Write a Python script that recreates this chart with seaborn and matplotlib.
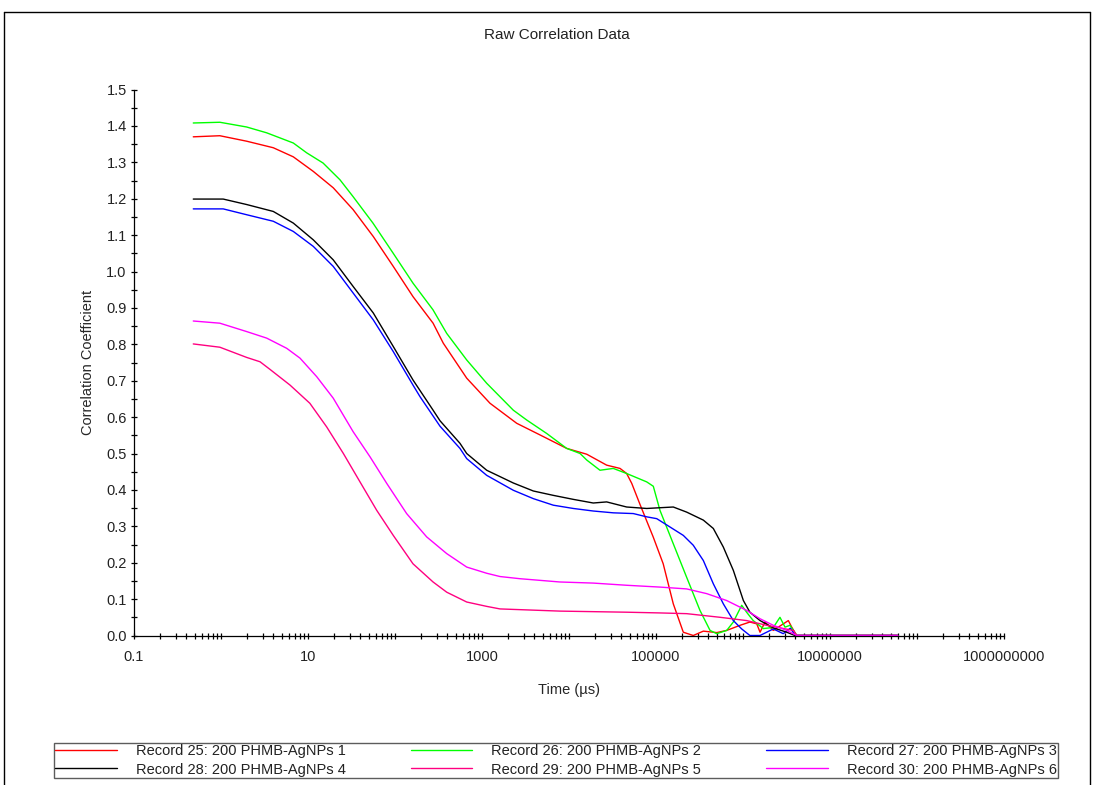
import numpy as np
import pandas as pd
import matplotlib
matplotlib.use("Agg")
import matplotlib.pyplot as plt
import seaborn as sns
from matplotlib.ticker import FixedLocator, FixedFormatter, LogLocator, MultipleLocator, FormatStrFormatter, NullFormatter
from matplotlib.lines import Line2D

# ---------------- data (time in µs, correlation coefficient) ----------------
labels = [
    "Record 25: 200 PHMB-AgNPs 1",
    "Record 26: 200 PHMB-AgNPs 2",
    "Record 27: 200 PHMB-AgNPs 3",
    "Record 28: 200 PHMB-AgNPs 4",
    "Record 29: 200 PHMB-AgNPs 5",
    "Record 30: 200 PHMB-AgNPs 6",
]
colors = ["#ff0000", "#00ff00", "#0000ff", "#000000", "#ff0080", "#ff00ff"]

t25 = [0.48, 0.97, 1.97, 3.99, 6.78, 11.5, 19.5, 33, 56.3, 95.5, 161, 274, 359, 667, 1236, 2506,
       4645, 9410, 16000, 27100, 38600, 46000, 52600, 65500, 93100, 121000, 158000, 206000,
       268000, 350000, 499000, 650000, 925000, 1.20e6, 1.44e6, 1.57e6, 1.79e6, 2.23e6, 3.32e6,
       3.63e6, 4.14e6, 6e7]
g25 = [1.370, 1.373, 1.358, 1.340, 1.315, 1.275, 1.230, 1.170, 1.096, 1.014, 0.931, 0.858, 0.803,
       0.707, 0.638, 0.583, 0.551, 0.514, 0.498, 0.468, 0.459, 0.445, 0.418, 0.360, 0.270, 0.197,
       0.087, 0.009, 0.0, 0.012, 0.008, 0.014, 0.028, 0.037, 0.032, 0.009, 0.037, 0.014, 0.041,
       0.023, 0.0, 0.0]

t26 = [0.48, 0.97, 1.97, 3.35, 6.78, 9.66, 14.9, 23.3, 32.9, 55.8, 94.8, 161, 273, 393, 667, 1132,
       2290, 3265, 5545, 9410, 13400, 16000, 22700, 32300, 46000, 78200, 93100, 111000, 158000,
       225000, 320000, 418000, 499000, 650000, 774000, 966000, 1.10e6, 1.31e6, 1.71e6, 2.23e6,
       2.66e6, 3.04e6, 3.47e6, 4.14e6, 6e7]
g26 = [1.408, 1.410, 1.397, 1.381, 1.353, 1.326, 1.298, 1.252, 1.206, 1.133, 1.051, 0.968, 0.895,
       0.830, 0.757, 0.693, 0.619, 0.592, 0.555, 0.514, 0.500, 0.482, 0.454, 0.459, 0.445, 0.422,
       0.410, 0.344, 0.252, 0.160, 0.069, 0.014, 0.005, 0.014, 0.037, 0.083, 0.064, 0.041, 0.019,
       0.022, 0.050, 0.023, 0.028, 0.0, 0.0]

t27 = [0.48, 1.06, 1.97, 3.99, 6.78, 11.5, 19.5, 33, 56.3, 95.5, 161, 194, 329, 558, 667, 1132,
       2290, 3890, 6600, 11200, 19000, 32300, 54800, 78200, 102000, 145000, 206000, 268000,
       350000, 456000, 594000, 774000, 966000, 1.20e6, 1.57e6, 2.23e6, 2.9e6, 3.5e6, 4.0e6, 6e7]
g27 = [1.172, 1.172, 1.156, 1.138, 1.110, 1.069, 1.014, 0.941, 0.867, 0.780, 0.688, 0.656, 0.575,
       0.514, 0.486, 0.440, 0.399, 0.376, 0.358, 0.349, 0.342, 0.337, 0.335, 0.326, 0.321, 0.298,
       0.275, 0.248, 0.206, 0.142, 0.087, 0.041, 0.018, 0.0, 0.0, 0.018, 0.005, 0.020, 0.0, 0.0]

t28 = [0.48, 1.06, 1.97, 3.99, 6.78, 11.5, 19.5, 33, 56.3, 95.5, 161, 274, 329, 558, 667, 1132,
       2290, 3890, 6600, 11200, 19000, 27100, 46000, 78200, 111000, 158000, 225000, 350000,
       456000, 594000, 774000, 1.01e6, 1.20e6, 1.57e6, 2.23e6, 3.18e6, 3.96e6, 6e7]
g28 = [1.199, 1.199, 1.184, 1.165, 1.133, 1.087, 1.032, 0.959, 0.886, 0.794, 0.702, 0.619, 0.590,
       0.528, 0.500, 0.454, 0.419, 0.397, 0.385, 0.374, 0.364, 0.367, 0.353, 0.349, 0.351, 0.353,
       0.339, 0.317, 0.294, 0.243, 0.179, 0.096, 0.064, 0.041, 0.021, 0.009, 0.0, 0.0]

t29 = [0.48, 0.97, 1.97, 2.81, 3.66, 6.21, 10.5, 16.4, 25.5, 39.6, 61.6, 95.5, 161, 274, 393, 667,
       1132, 1610, 7880, 46000, 111000, 225000, 545000, 1.10e6, 1.87e6, 2.66e6, 3.78e6, 4.14e6, 6e7]
g29 = [0.801, 0.792, 0.764, 0.752, 0.731, 0.688, 0.638, 0.573, 0.500, 0.422, 0.344, 0.275, 0.197,
       0.147, 0.119, 0.092, 0.080, 0.073, 0.067, 0.064, 0.062, 0.060, 0.050, 0.041, 0.028, 0.021,
       0.014, 0.0, 0.0]

t30 = [0.48, 0.97, 1.97, 3.35, 5.69, 8.09, 12.6, 19.5, 33, 51.6, 80.3, 136, 231, 393, 667, 1132,
       1610, 2735, 7880, 19000, 46000, 111000, 225000, 383000, 650000, 1.10e6, 1.57e6, 2.23e6,
       3.18e6, 4.14e6, 6e7]
g30 = [0.864, 0.858, 0.835, 0.817, 0.789, 0.762, 0.711, 0.652, 0.560, 0.491, 0.418, 0.335, 0.271,
       0.225, 0.188, 0.171, 0.162, 0.156, 0.147, 0.144, 0.138, 0.133, 0.128, 0.115, 0.096, 0.069,
       0.046, 0.028, 0.014, 0.0, 0.0]

x_ticks = [0.1, 10, 1000, 100000, 10000000, 1000000000]
x_tick_labels = ["0.1", "10", "1000", "100000", "10000000", "1000000000"]

# ---------------- build long-form table ----------------
times = [t25, t26, t27, t28, t29, t30]
vals = [g25, g26, g27, g28, g29, g30]
frames = []
for lab, tt, gg in zip(labels, times, vals):
    frames.append(pd.DataFrame({"t": tt, "g": gg, "series": lab}))
df = pd.concat(frames, ignore_index=True)

# ---------------- style ----------------
sns.set_style("ticks")
plt.rcParams["font.family"] = ["Liberation Sans", "DejaVu Sans"]
plt.rcParams["text.color"] = "#222222"

W, H = 1094, 785
fig = plt.figure(figsize=(W / 100, H / 100), dpi=100)
ax = fig.add_axes([134 / W, 1 - 635.5 / H, (1004 - 134) / W, (635.5 - 89.5) / H])
ax.set_xscale("log")

sns.lineplot(data=df, x="t", y="g", hue="series", hue_order=labels,
             palette=dict(zip(labels, colors)), estimator=None, sort=False,
             linewidth=1.0, legend=False, ax=ax)
for ln in ax.get_lines():
    ln.set_clip_on(False)

ax.set_xlim(0.1, 1e9)
ax.set_ylim(0, 1.5)

ax.xaxis.set_major_locator(FixedLocator(x_ticks))
ax.xaxis.set_major_formatter(FixedFormatter(x_tick_labels))
ax.xaxis.set_minor_locator(LogLocator(base=10, subs=np.arange(1, 10), numticks=200))
ax.xaxis.set_minor_formatter(NullFormatter())
ax.yaxis.set_major_locator(MultipleLocator(0.1))
ax.yaxis.set_major_formatter(FormatStrFormatter("%.1f"))
ax.yaxis.set_minor_locator(MultipleLocator(0.05))

ax.tick_params(which="both", direction="inout", length=4.5, width=0.9, color="black",
               labelsize=10.5, labelcolor="#222222")
ax.tick_params(axis="x", which="both", pad=8)
ax.tick_params(axis="y", which="both", pad=3)

sns.despine(ax=ax)
for s in ["left", "bottom"]:
    ax.spines[s].set_color("black")
    ax.spines[s].set_linewidth(0.9)

ax.set_xlabel("Time (µs)", fontsize=10.5, labelpad=14)
ax.set_ylabel("Correlation Coefficient", fontsize=10.5, labelpad=8)

fig.text(557 / W, 1 - 35 / H, "Raw Correlation Data", ha="center", va="center", fontsize=11)

# figure frame (top, left, right)
for xs, ys in [([4 / W, 1090 / W], [1 - 12 / H, 1 - 12 / H]),
               ([4 / W, 4 / W], [1 - 12 / H, 0]),
               ([1090 / W, 1090 / W], [1 - 12 / H, 0])]:
    fig.add_artist(Line2D(xs, ys, transform=fig.transFigure, color="black", linewidth=1.0))

# legend, row-wise order in 3 columns
order = [0, 3, 1, 4, 2, 5]
handles = [Line2D([], [], color=colors[i], linewidth=1.0) for i in order]
leg = fig.legend(handles, [labels[i] for i in order], ncol=3, loc="lower left",
                 bbox_to_anchor=(54 / W, 1 - 778 / H, (1058 - 54) / W, 40 / H),
                 mode="expand", borderaxespad=0, frameon=True, fancybox=False,
                 edgecolor="#333333", fontsize=10.5, handlelength=4.2, handletextpad=1.3,
                 labelspacing=0.3, borderpad=0.1, columnspacing=2.0)
leg.get_frame().set_linewidth(1.0)

fig.savefig("out.png", dpi=100, facecolor="white")
